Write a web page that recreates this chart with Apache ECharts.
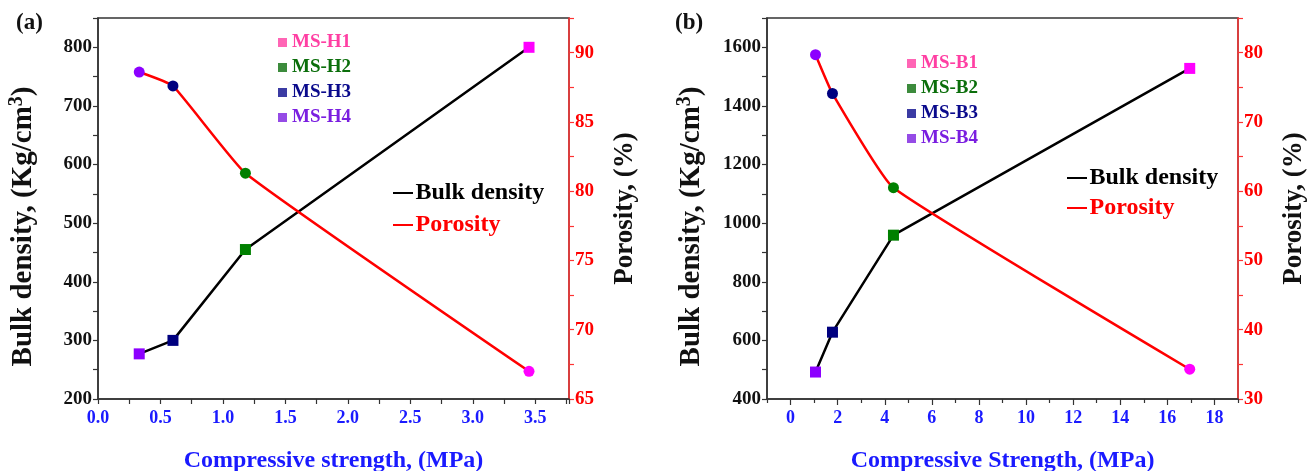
<!DOCTYPE html>
<html>
<head>
<meta charset="utf-8">
<script src="https://cdn.jsdelivr.net/npm/echarts@6/dist/echarts.min.js"></script>
<style>
  html, body { margin: 0; padding: 0; background: #fff; }
  #main { width: 1307px; height: 471px; }
</style>
</head>
<body>
<div id="main"></div>
<script>
// panel (a) - MS-H samples
var strengthH = [0.33, 0.60, 1.18, 3.45];
var densityH = [277, 300, 455, 800];
var porosityH = [88.6, 87.6, 81.3, 67.0];
var samplesH = ['MS-H4', 'MS-H3', 'MS-H2', 'MS-H1'];

// panel (b) - MS-B samples
var strengthB = [1.06, 1.78, 4.37, 16.95];
var densityB = [492, 628, 959, 1528];
var porosityB = [79.7, 74.1, 60.5, 34.3];
var samplesB = ['MS-B4', 'MS-B3', 'MS-B2', 'MS-B1'];

// tick labels of panel (b) x axis
var ticksB = [0, 2, 4, 6, 8, 10, 12, 14, 16, 18];
var minorB = [-1, 1, 3, 5, 7, 9, 11, 13, 15, 17, 19];

var FONT = 'Liberation Serif';
// marker colours, in the order of the arrays above (4,3,2,1)
var markColors = ['#8c00ff', '#00007f', '#008000', '#ff00ff'];
var legendColors = { '1': '#ff3fa3', '2': '#0b6e0b', '3': '#0a0a8c', '4': '#7a1ee0' };

function pts(xs, ys) {
  return xs.map(function (x, i) {
    return { value: [x, ys[i]], itemStyle: { color: markColors[i] } };
  });
}
function onStep(v, step) {
  return Math.abs(v / step - Math.round(v / step)) < 1e-6;
}
function msLegend(names, left, top) {
  var items = names.slice().reverse().map(function (n) {
    var c = legendColors[n.slice(-1)];
    return { name: n, icon: 'rect', itemStyle: { color: c }, textStyle: { color: c } };
  });
  return {
    orient: 'vertical', left: left, top: top, itemWidth: 9, itemHeight: 9,
    itemGap: 6, selectedMode: false, data: items,
    textStyle: { fontFamily: FONT, fontWeight: 'bold', fontSize: 19, padding: [0, 0, 0, 0] }
  };
}
function lineLegend(left, top, gap) {
  return {
    orient: 'vertical', left: left, top: top, itemWidth: 21, itemHeight: 2, itemGap: gap,
    selectedMode: false,
    textStyle: { fontFamily: FONT, fontWeight: 'bold', fontSize: 24, padding: [0, 0, 0, -3] },
    data: [
      { name: 'Bulk density', icon: 'path://M0,0H20V2H0Z', itemStyle: { color: '#000' }, textStyle: { color: '#000' } },
      { name: 'Porosity', icon: 'path://M0,0H20V2H0Z', itemStyle: { color: '#ff0000' }, textStyle: { color: '#ff0000' } }
    ]
  };
}
function yLeft(grid, min, max, step, name) {
  return {
    type: 'value', gridIndex: grid, position: 'left', min: min, max: max, interval: step / 2,
    name: name, nameLocation: 'middle', nameGap: grid === 0 ? 57 : 58, nameRotate: 90,
    nameTextStyle: {
      fontFamily: FONT, fontWeight: 'bold', fontSize: 29, color: '#111', padding: [0, 36, 0, 0],
      rich: { sup: { fontFamily: FONT, fontWeight: 'bold', fontSize: 20, color: '#111', padding: [0, 0, 14, 0] } }
    },
    axisLine: { show: true, onZero: false, lineStyle: { color: '#333', width: 1.5 } },
    axisTick: { show: true, length: 5, lineStyle: { color: '#333', width: 1.2 } },
    splitLine: { show: false },
    axisLabel: {
      fontFamily: FONT, fontWeight: 'bold', fontSize: 19, color: '#111', margin: 6,
      formatter: function (v) { return onStep(v, step) ? String(v) : ''; }
    }
  };
}
function yRight(grid, min, max, step) {
  return {
    type: 'value', gridIndex: grid, position: 'right', min: min, max: max, interval: step / 2,
    name: 'Porosity, (%)', nameLocation: 'middle', nameGap: grid === 0 ? 43 : 43, nameRotate: 90,
    nameTextStyle: { fontFamily: FONT, fontWeight: 'bold', fontSize: 27, color: '#111' },
    axisLine: { show: true, onZero: false, lineStyle: { color: '#ff3333', width: 1.5 } },
    axisTick: { show: true, length: 5, lineStyle: { color: '#ff3333', width: 1.2 } },
    splitLine: { show: false },
    axisLabel: {
      fontFamily: FONT, fontWeight: 'bold', fontSize: 19, color: '#ff0000', margin: 6,
      formatter: function (v) { return onStep(v, step) ? String(v) : ''; }
    }
  };
}
var xName = { fontFamily: FONT, fontWeight: 'bold', fontSize: 24, color: '#1a1aff' };
var xLabel = { fontFamily: FONT, fontWeight: 'bold', fontSize: 18, color: '#1a1aff', margin: 10 };

var chart = echarts.init(document.getElementById('main'));
var option = {
  backgroundColor: '#fff',
  animation: false,
  title: [
    { text: '(a)', left: 11, top: 7, textStyle: { fontFamily: FONT, fontWeight: 'bold', fontSize: 23, color: '#111' } },
    { text: '(b)', left: 670, top: 7, textStyle: { fontFamily: FONT, fontWeight: 'bold', fontSize: 23, color: '#111' } }
  ],
  grid: [
    { left: 98, top: 18, width: 471, height: 381, outerBoundsMode: 'none', show: true, borderColor: '#333', borderWidth: 1.5 },
    { left: 767, top: 18, width: 471, height: 381, outerBoundsMode: 'none', show: true, borderColor: '#333', borderWidth: 1.5 }
  ],
  legend: [
    msLegend(samplesH, 273, 28),
    lineLegend(388, 176, 8),
    msLegend(samplesB, 902, 49),
    lineLegend(1062, 161, 6)
  ],
  xAxis: [
    {
      type: 'value', gridIndex: 0, min: 0, max: 3.77, interval: 0.25,
      name: 'Compressive strength, (MPa)', nameLocation: 'middle', nameGap: 50, nameTextStyle: xName,
      axisLine: { onZero: false, lineStyle: { color: '#333', width: 1.5 } },
      axisTick: { length: 5, lineStyle: { color: '#333', width: 1.2 } },
      splitLine: { show: false },
      axisLabel: Object.assign({}, xLabel, {
        formatter: function (v) { return onStep(v, 0.5) && v < 3.7 ? v.toFixed(1) : ''; }
      })
    },
    {
      type: 'value', gridIndex: 1, min: -1, max: 19,
      name: 'Compressive Strength, (MPa)', nameLocation: 'middle', nameGap: 50, nameTextStyle: xName,
      axisLine: { onZero: false, lineStyle: { color: '#333', width: 1.5 } },
      axisTick: { length: 6, customValues: ticksB, lineStyle: { color: '#333', width: 1.2 } },
      splitLine: { show: false },
      axisLabel: Object.assign({}, xLabel, { customValues: ticksB })
    },
    {
      type: 'value', gridIndex: 1, min: -1, max: 19, position: 'bottom',
      axisLine: { show: false, onZero: false },
      axisTick: { length: 4, customValues: minorB, lineStyle: { color: '#333', width: 1.2 } },
      splitLine: { show: false },
      axisLabel: { show: false }
    }
  ],
  yAxis: [
    yLeft(0, 200, 850, 100, 'Bulk density, (Kg/cm{sup|3})'),
    yRight(0, 65, 92.5, 5),
    yLeft(1, 400, 1700, 200, 'Bulk density, (Kg/cm{sup|3})'),
    yRight(1, 30, 85, 10)
  ],
  series: [
    {
      name: 'Bulk density', type: 'line', xAxisIndex: 0, yAxisIndex: 0,
      symbol: 'rect', symbolSize: 11, lineStyle: { color: '#000', width: 2.5 },
      data: pts(strengthH, densityH)
    },
    {
      name: 'Porosity', type: 'line', xAxisIndex: 0, yAxisIndex: 1, smooth: 0.12,
      symbol: 'circle', symbolSize: 11, lineStyle: { color: '#ff0000', width: 2.5 },
      data: pts(strengthH, porosityH)
    },
    {
      name: 'Bulk density', type: 'line', xAxisIndex: 1, yAxisIndex: 2,
      symbol: 'rect', symbolSize: 11, lineStyle: { color: '#000', width: 2.5 },
      data: pts(strengthB, densityB)
    },
    {
      name: 'Porosity', type: 'line', xAxisIndex: 1, yAxisIndex: 3, smooth: 0.12,
      symbol: 'circle', symbolSize: 11, lineStyle: { color: '#ff0000', width: 2.5 },
      data: pts(strengthB, porosityB)
    }
  ]
};
// empty series so the sample legends have entries
samplesH.concat(samplesB).forEach(function (n) {
  var isH = n.indexOf('H') > 0;
  option.series.push({
    name: n, type: 'scatter', xAxisIndex: isH ? 0 : 1, yAxisIndex: isH ? 0 : 2,
    itemStyle: { color: legendColors[n.slice(-1)] }, data: []
  });
});
chart.setOption(option);
</script>
</body>
</html>
